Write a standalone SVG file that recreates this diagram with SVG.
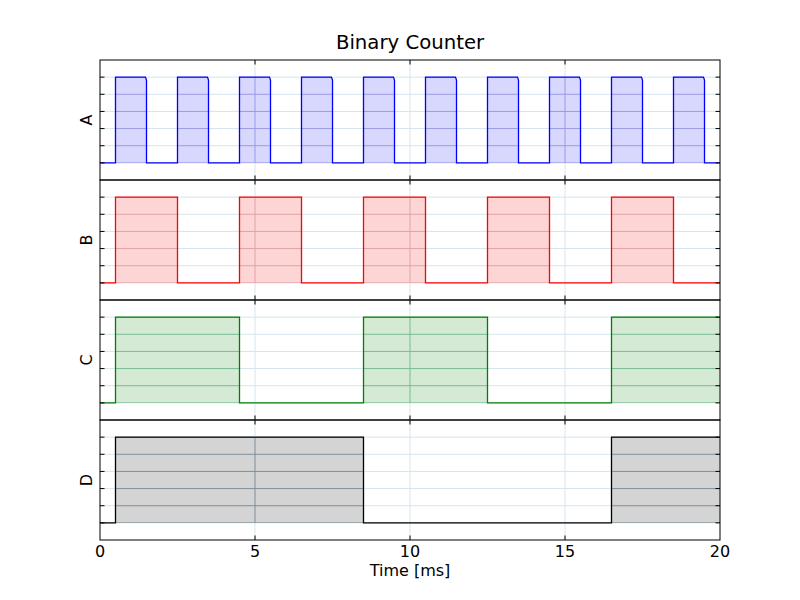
<svg xmlns="http://www.w3.org/2000/svg" xmlns:xlink="http://www.w3.org/1999/xlink" width="800" height="600" viewBox="0 0 800 600">
<style>
text{font-family:"DejaVu Sans","Liberation Sans",sans-serif;fill:#000}
.lbl{font-size:16px}
.tl{font-size:19.7px}
.frame{fill:none;stroke:#000;stroke-width:1}
.sig{fill:none;stroke-width:1.3;stroke-linejoin:miter}
.tk{stroke:#000;stroke-width:1;fill:none}
.gl{stroke-width:1;fill:none}
</style>
<defs>
<g id="grid">
<path d="M100,77.14H720M100,94.29H720M100,111.43H720M100,128.57H720M100,145.71H720M100,162.86H720M255,60V180M410,60V180M565,60V180"/>
</g>
<path id="tks" d="M100,77.14h4.5M100,94.29h4.5M100,111.43h4.5M100,128.57h4.5M100,145.71h4.5M100,162.86h4.5M720,77.14h-4.5M720,94.29h-4.5M720,111.43h-4.5M720,128.57h-4.5M720,145.71h-4.5M720,162.86h-4.5M255,60v4.5M410,60v4.5M565,60v4.5M255,180v-4.5M410,180v-4.5M565,180v-4.5"/>
<path id="fA" d="M115.5,162.9V77.1H145.5L146.5,80V162.9ZM177.5,162.9V77.1H207.5L208.5,80V162.9ZM239.5,162.9V77.1H269.5L270.5,80V162.9ZM301.5,162.9V77.1H331.5L332.5,80V162.9ZM363.5,162.9V77.1H393.5L394.5,80V162.9ZM425.5,162.9V77.1H455.5L456.5,80V162.9ZM487.5,162.9V77.1H517.5L518.5,80V162.9ZM549.5,162.9V77.1H579.5L580.5,80V162.9ZM611.5,162.9V77.1H641.5L642.5,80V162.9ZM673.5,162.9V77.1H703.5L704.5,80V162.9Z"/>
<path id="fB" d="M115.5,282.9V197.1H177.5V282.9ZM239.5,282.9V197.1H301.5V282.9ZM363.5,282.9V197.1H425.5V282.9ZM487.5,282.9V197.1H549.5V282.9ZM611.5,282.9V197.1H673.5V282.9Z"/>
<path id="fC" d="M115.5,402.9V317.1H239.5V402.9ZM363.5,402.9V317.1H487.5V402.9ZM611.5,402.9V317.1H720V402.9Z"/>
<path id="fD" d="M115.5,522.9V437.1H363.5V522.9ZM611.5,522.9V437.1H720V522.9Z"/>
<clipPath id="cA"><use xlink:href="#fA"/></clipPath>
<clipPath id="cB"><use xlink:href="#fB"/></clipPath>
<clipPath id="cC"><use xlink:href="#fC"/></clipPath>
<clipPath id="cD"><use xlink:href="#fD"/></clipPath>
</defs>
<rect width="800" height="600" fill="#fff"/>
<text class="tl" x="410" y="49.3" text-anchor="middle">Binary Counter</text>

<g id="panelA">
<use xlink:href="#grid" class="gl" stroke="#d5e6ee"/>
<use xlink:href="#fA" fill="#d8d8ff"/>
<g clip-path="url(#cA)"><use xlink:href="#grid" class="gl" stroke="#9a9ae4"/></g>
<path class="sig" stroke="#0000ff" d="M100,162.9H115.5V77.1H145.5L146.5,80V162.9H177.5V77.1H207.5L208.5,80V162.9H239.5V77.1H269.5L270.5,80V162.9H301.5V77.1H331.5L332.5,80V162.9H363.5V77.1H393.5L394.5,80V162.9H425.5V77.1H455.5L456.5,80V162.9H487.5V77.1H517.5L518.5,80V162.9H549.5V77.1H579.5L580.5,80V162.9H611.5V77.1H641.5L642.5,80V162.9H673.5V77.1H703.5L704.5,80V162.9H720"/>
<use xlink:href="#tks" class="tk"/>
<rect class="frame" x="100" y="60" width="620" height="120"/>
<text class="lbl" transform="translate(92,120) rotate(-90)" text-anchor="middle">A</text>
</g>

<g id="panelB">
<use xlink:href="#grid" class="gl" stroke="#d5e6ee" transform="translate(0,120)"/>
<use xlink:href="#fB" fill="#fdd5d5"/>
<g clip-path="url(#cB)"><use xlink:href="#grid" class="gl" stroke="#e2a2a8" transform="translate(0,120)"/></g>
<path class="sig" stroke="#ff0000" d="M100,282.9H115.5V197.1H177.5V282.9H239.5V197.1H301.5V282.9H363.5V197.1H425.5V282.9H487.5V197.1H549.5V282.9H611.5V197.1H673.5V282.9H720"/>
<use xlink:href="#tks" class="tk" transform="translate(0,120)"/>
<rect class="frame" x="100" y="180" width="620" height="120"/>
<text class="lbl" transform="translate(92,240) rotate(-90)" text-anchor="middle">B</text>
</g>

<g id="panelC">
<use xlink:href="#grid" class="gl" stroke="#d5e6ee" transform="translate(0,240)"/>
<use xlink:href="#fC" fill="#d5ead5"/>
<g clip-path="url(#cC)"><use xlink:href="#grid" class="gl" stroke="#78bc90" transform="translate(0,240)"/></g>
<path class="sig" stroke="#008000" d="M100,402.9H115.5V317.1H239.5V402.9H363.5V317.1H487.5V402.9H611.5V317.1H720"/>
<use xlink:href="#tks" class="tk" transform="translate(0,240)"/>
<rect class="frame" x="100" y="300" width="620" height="120"/>
<text class="lbl" transform="translate(92,360) rotate(-90)" text-anchor="middle">C</text>
</g>

<g id="panelD">
<use xlink:href="#grid" class="gl" stroke="#d5e6ee" transform="translate(0,360)"/>
<use xlink:href="#fD" fill="#d4d4d4"/>
<g clip-path="url(#cD)"><use xlink:href="#grid" class="gl" stroke="#7f8f99" transform="translate(0,360)"/></g>
<path class="sig" stroke="#000000" d="M100,522.9H115.5V437.1H363.5V522.9H611.5V437.1H720"/>
<use xlink:href="#tks" class="tk" transform="translate(0,360)"/>
<rect class="frame" x="100" y="420" width="620" height="120"/>
<text class="lbl" transform="translate(92,480) rotate(-90)" text-anchor="middle">D</text>
</g>

<g id="xaxis">
<text class="lbl" x="100" y="557" text-anchor="middle">0</text>
<text class="lbl" x="255" y="557" text-anchor="middle">5</text>
<text class="lbl" x="410" y="557" text-anchor="middle">10</text>
<text class="lbl" x="565" y="557" text-anchor="middle">15</text>
<text class="lbl" x="720" y="557" text-anchor="middle">20</text>
<text class="lbl" x="410" y="575.5" text-anchor="middle">Time [ms]</text>
</g>
</svg>
